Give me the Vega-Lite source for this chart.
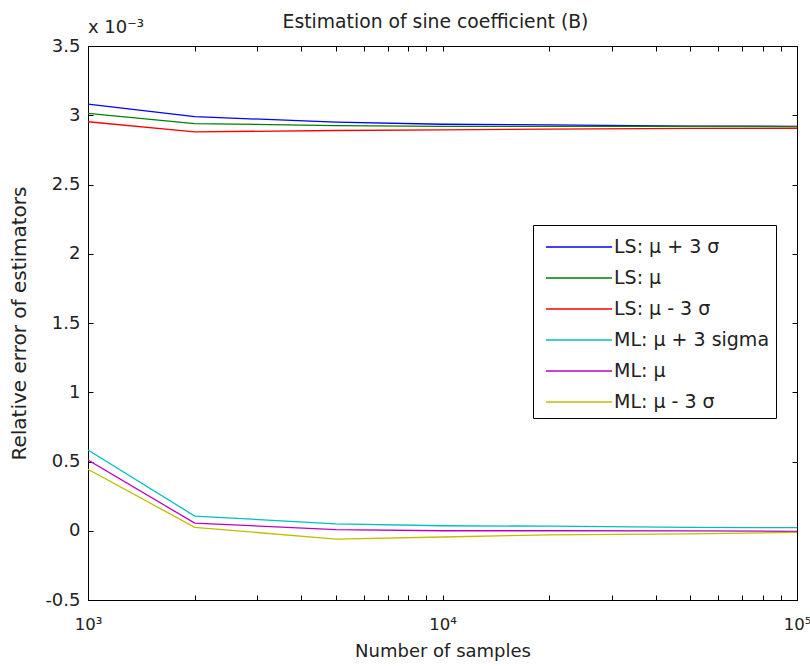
{
  "$schema": "https://vega.github.io/schema/vega-lite/v6.json",
  "width": 709,
  "height": 554,
  "autosize": {"type": "none"},
  "padding": {"left": 88, "top": 46, "right": 13, "bottom": 69},
  "background": "white",
  "config": {
    "font": "DejaVu Sans",
    "view": {"stroke": "black", "strokeWidth": 1}
  },
  "title": {
    "text": "Estimation of sine coefficient (B)",
    "fontSize": 18.8,
    "fontWeight": "normal",
    "font": "DejaVu Sans",
    "color": "#222",
    "anchor": "middle",
    "dx": -7,
    "offset": -13
  },
  "resolve": {"axis": {"x": "independent", "y": "independent"}},
  "datasets": {
    "curves": [
      {"n": 1000, "v": 3.08, "s": "LS: μ + 3 σ"},
      {"n": 2000, "v": 2.99, "s": "LS: μ + 3 σ"},
      {"n": 5000, "v": 2.95, "s": "LS: μ + 3 σ"},
      {"n": 10000, "v": 2.935, "s": "LS: μ + 3 σ"},
      {"n": 20000, "v": 2.93, "s": "LS: μ + 3 σ"},
      {"n": 50000, "v": 2.922, "s": "LS: μ + 3 σ"},
      {"n": 100000, "v": 2.92, "s": "LS: μ + 3 σ"},
      {"n": 1000, "v": 3.014, "s": "LS: μ"},
      {"n": 2000, "v": 2.94, "s": "LS: μ"},
      {"n": 5000, "v": 2.925, "s": "LS: μ"},
      {"n": 10000, "v": 2.92, "s": "LS: μ"},
      {"n": 20000, "v": 2.92, "s": "LS: μ"},
      {"n": 50000, "v": 2.919, "s": "LS: μ"},
      {"n": 100000, "v": 2.918, "s": "LS: μ"},
      {"n": 1000, "v": 2.953, "s": "LS: μ  - 3 σ"},
      {"n": 2000, "v": 2.88, "s": "LS: μ  - 3 σ"},
      {"n": 5000, "v": 2.89, "s": "LS: μ  - 3 σ"},
      {"n": 10000, "v": 2.894, "s": "LS: μ  - 3 σ"},
      {"n": 20000, "v": 2.9, "s": "LS: μ  - 3 σ"},
      {"n": 50000, "v": 2.905, "s": "LS: μ  - 3 σ"},
      {"n": 100000, "v": 2.906, "s": "LS: μ  - 3 σ"},
      {"n": 1000, "v": 0.583, "s": "ML: μ + 3 sigma"},
      {"n": 2000, "v": 0.106, "s": "ML: μ + 3 sigma"},
      {"n": 5000, "v": 0.05, "s": "ML: μ + 3 sigma"},
      {"n": 10000, "v": 0.036, "s": "ML: μ + 3 sigma"},
      {"n": 20000, "v": 0.033, "s": "ML: μ + 3 sigma"},
      {"n": 50000, "v": 0.024, "s": "ML: μ + 3 sigma"},
      {"n": 100000, "v": 0.022, "s": "ML: μ + 3 sigma"},
      {"n": 1000, "v": 0.511, "s": "ML: μ"},
      {"n": 2000, "v": 0.055, "s": "ML: μ"},
      {"n": 5000, "v": 0.008, "s": "ML: μ"},
      {"n": 10000, "v": 0.0, "s": "ML: μ"},
      {"n": 20000, "v": 0.0, "s": "ML: μ"},
      {"n": 50000, "v": -0.001, "s": "ML: μ"},
      {"n": 100000, "v": -0.004, "s": "ML: μ"},
      {"n": 1000, "v": 0.444, "s": "ML: μ - 3 σ"},
      {"n": 2000, "v": 0.025, "s": "ML: μ - 3 σ"},
      {"n": 5000, "v": -0.06, "s": "ML: μ - 3 σ"},
      {"n": 10000, "v": -0.045, "s": "ML: μ - 3 σ"},
      {"n": 20000, "v": -0.03, "s": "ML: μ - 3 σ"},
      {"n": 50000, "v": -0.022, "s": "ML: μ - 3 σ"},
      {"n": 100000, "v": -0.012, "s": "ML: μ - 3 σ"}
    ],
    "note": [{"n": 1000, "v": 3.5, "t": "x 10⁻³"}]
  },
  "layer": [
    {
      "data": {"name": "curves"},
      "mark": {"type": "line", "strokeWidth": 1.3, "clip": true},
      "encoding": {
        "x": {
          "field": "n",
          "type": "quantitative",
          "scale": {"type": "log", "domain": [1000, 100000], "nice": false},
          "axis": {
            "title": "Number of samples",
            "titleFontSize": 18,
            "titleFontWeight": "normal",
            "titleColor": "#222",
            "titlePadding": 10,
            "values": [1000, 2000, 3000, 4000, 5000, 6000, 7000, 8000, 9000, 10000, 20000, 30000, 40000, 50000, 60000, 70000, 80000, 90000, 100000],
            "labelExpr": "datum.value == 1000 ? '10³' : datum.value == 10000 ? '10⁴' : datum.value == 100000 ? '10⁵' : ''",
            "labelFontSize": 16.5,
            "labelColor": "#222",
            "labelPadding": 21,
            "labelFlush": false,
            "tickSize": -5,
            "tickColor": "black",
            "domainColor": "black",
            "grid": false
          }
        },
        "y": {
          "field": "v",
          "type": "quantitative",
          "scale": {"domain": [-0.5, 3.5], "nice": false, "zero": false},
          "axis": {
            "title": "Relative error of estimators",
            "titleFontSize": 20,
            "titleFontWeight": "normal",
            "titleColor": "#222",
            "titlePadding": 15,
            "values": [-0.5, 0, 0.5, 1, 1.5, 2, 2.5, 3, 3.5],
            "labelExpr": "datum.value + ''",
            "labelFontSize": 18,
            "labelColor": "#222",
            "labelPadding": 13,
            "labelFlush": false,
            "tickSize": -5,
            "tickColor": "black",
            "domainColor": "black",
            "grid": false
          }
        },
        "color": {
          "field": "s",
          "type": "nominal",
          "scale": {
            "domain": ["LS: μ + 3 σ", "LS: μ", "LS: μ  - 3 σ", "ML: μ + 3 sigma", "ML: μ", "ML: μ - 3 σ"],
            "range": ["#0000ff", "#008000", "#ff0000", "#00bfbf", "#bf00bf", "#bfbf00"]
          },
          "legend": {
            "title": null,
            "orient": "none",
            "legendX": 445,
            "legendY": 179,
            "symbolType": "M-0.6,0H3.8",
            "symbolSize": 900,
            "symbolStrokeWidth": 1.5,
            "labelFont": "DejaVu Sans",
            "labelFontSize": 19,
            "labelColor": "#222",
            "labelOffset": 43,
            "rowPadding": 5,
            "strokeColor": "black",
            "fillColor": "white",
            "padding": 6
          }
        }
      }
    },
    {
      "data": {"name": "curves"},
      "mark": {"type": "point", "opacity": 0},
      "encoding": {
        "x": {
          "field": "n",
          "type": "quantitative",
          "axis": {
            "orient": "top",
            "title": null,
            "labels": false,
            "values": [1000, 2000, 3000, 4000, 5000, 6000, 7000, 8000, 9000, 10000, 20000, 30000, 40000, 50000, 60000, 70000, 80000, 90000, 100000],
            "tickSize": -5,
            "tickColor": "black",
            "domainColor": "black",
            "grid": false
          }
        },
        "y": {
          "field": "v",
          "type": "quantitative",
          "axis": {
            "orient": "right",
            "title": null,
            "labels": false,
            "values": [-0.5, 0, 0.5, 1, 1.5, 2, 2.5, 3, 3.5],
            "tickSize": -5,
            "tickColor": "black",
            "domainColor": "black",
            "grid": false
          }
        }
      }
    },
    {
      "data": {"name": "note"},
      "mark": {"type": "text", "align": "left", "baseline": "bottom", "dy": -9, "fontSize": 18, "color": "#222"},
      "encoding": {
        "x": {"field": "n", "type": "quantitative", "axis": null},
        "y": {"field": "v", "type": "quantitative", "axis": null},
        "text": {"field": "t"}
      }
    }
  ]
}
